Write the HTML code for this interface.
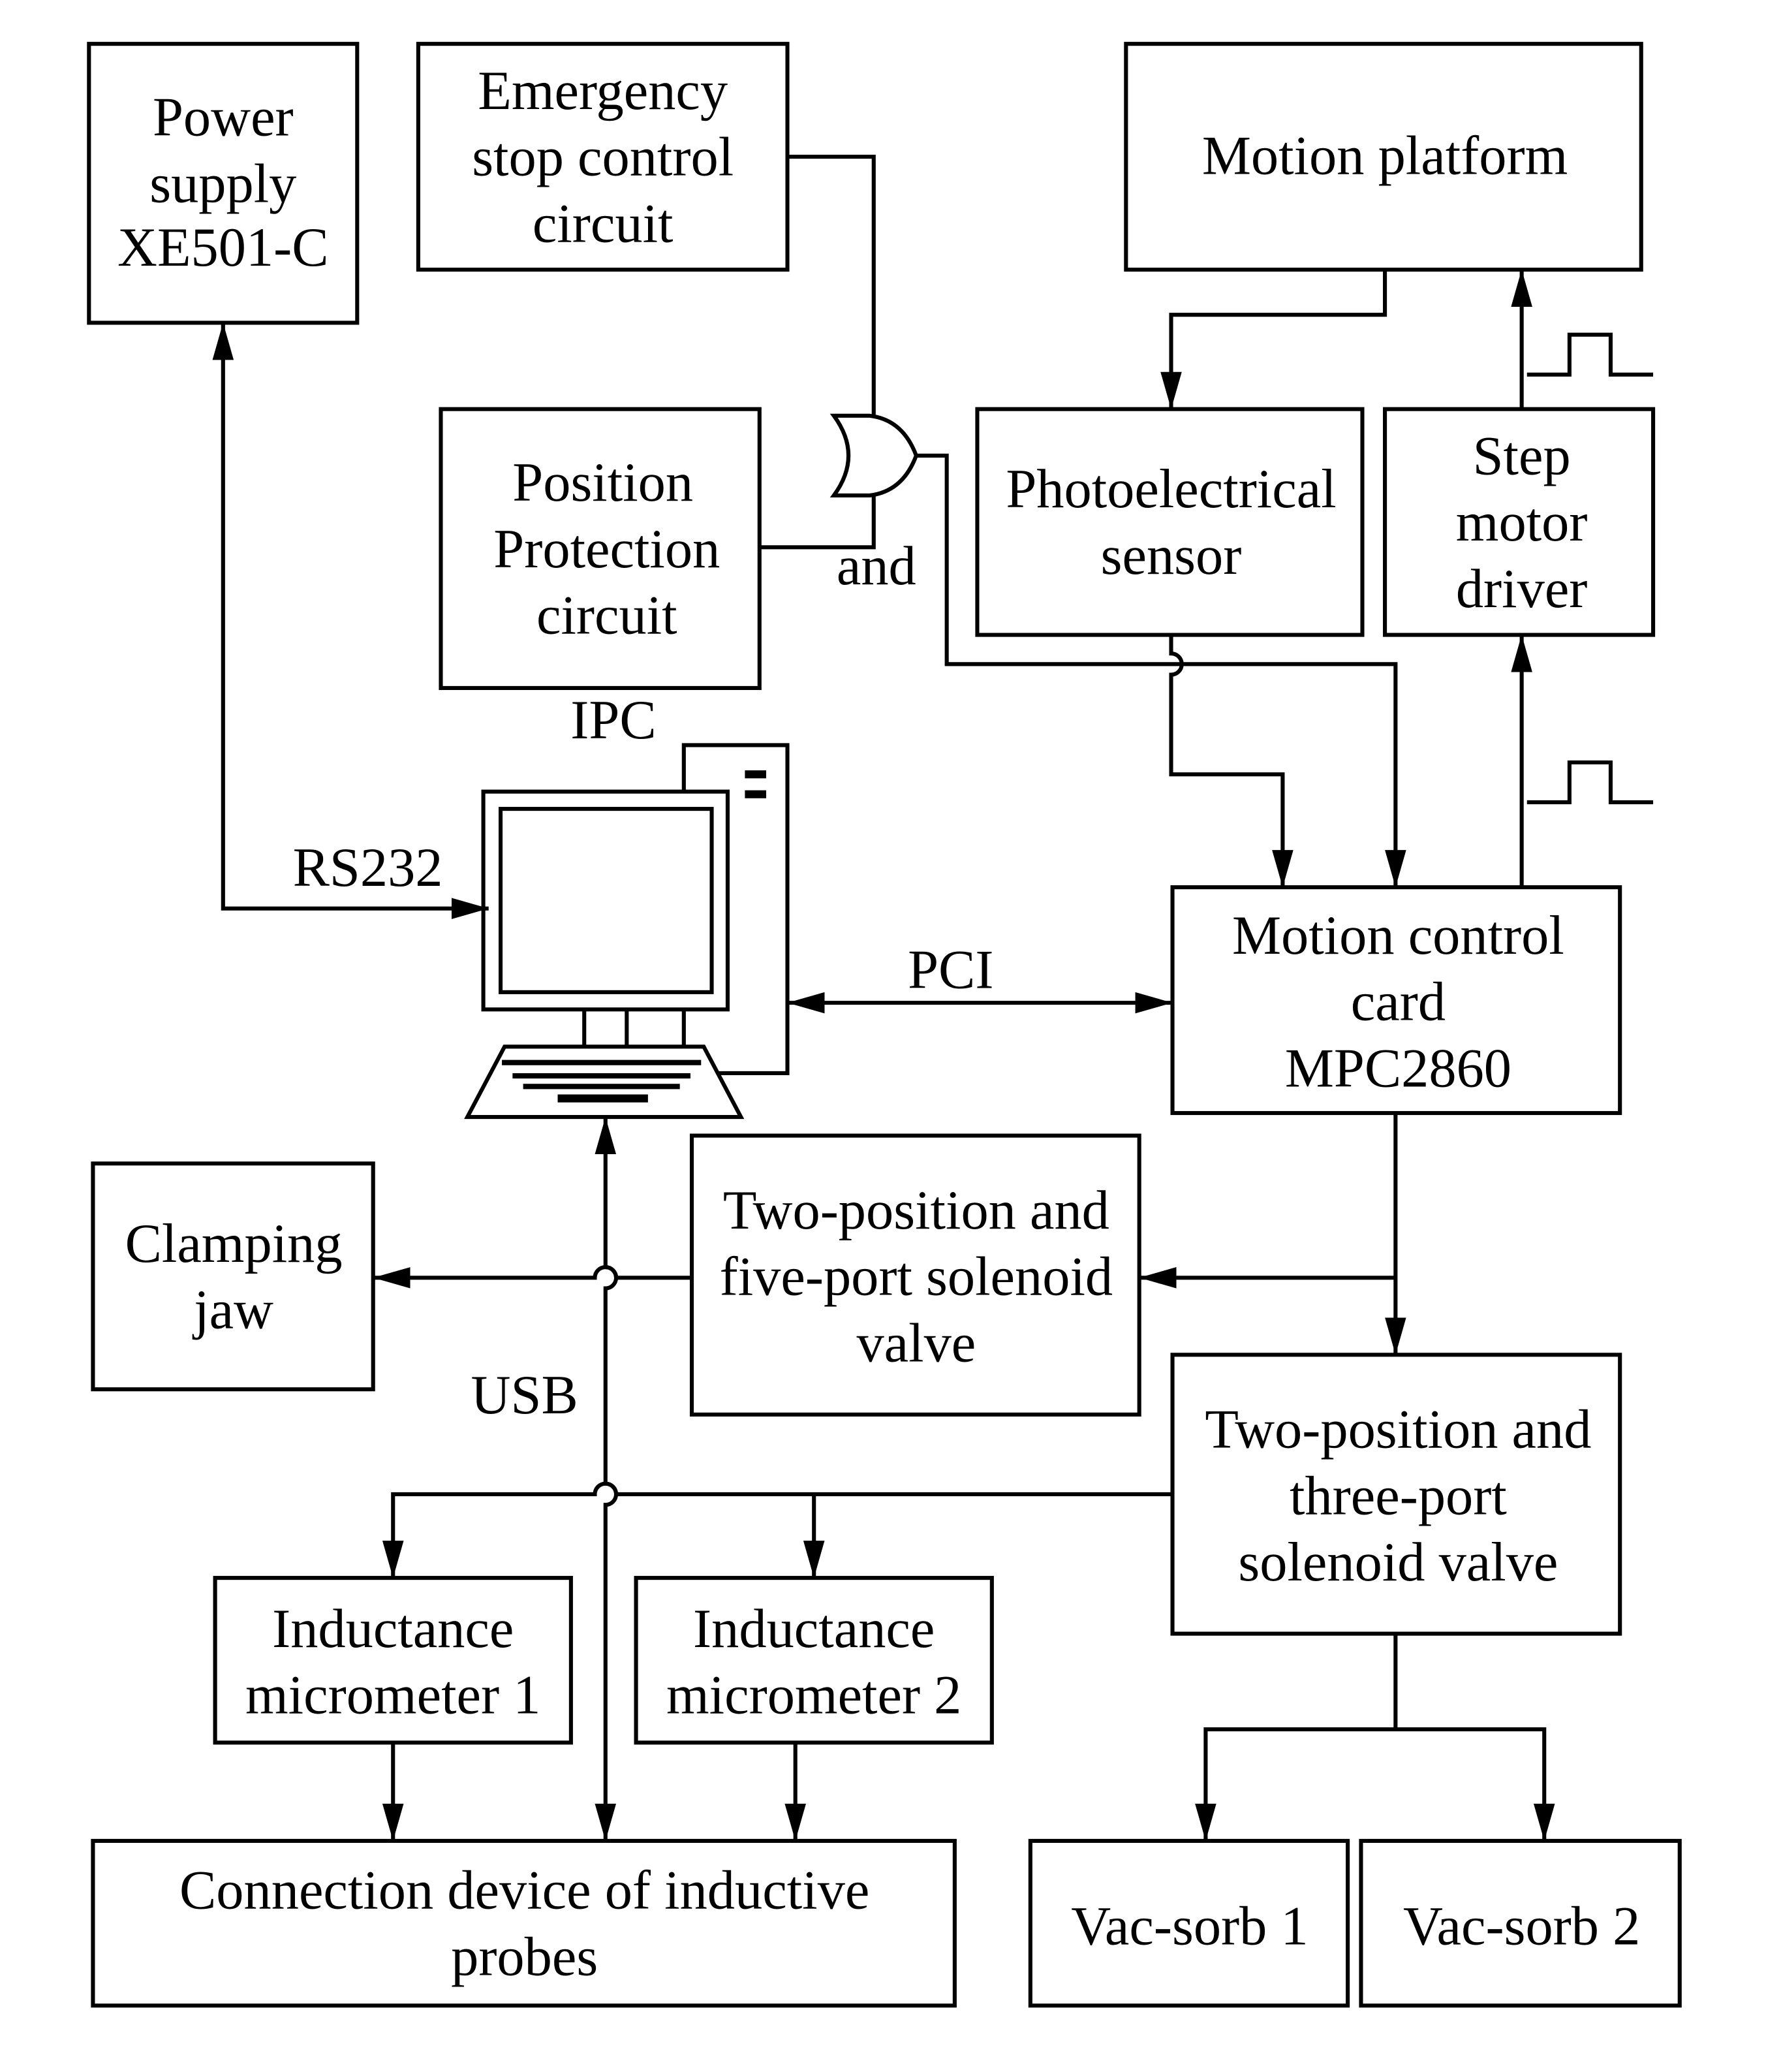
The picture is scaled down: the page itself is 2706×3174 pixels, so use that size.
<!DOCTYPE html>
<html><head><meta charset="utf-8"><style>
html,body{margin:0;padding:0;background:#fff}
svg{display:block}
text{font-family:"Liberation Serif",serif;font-size:41.5px;fill:#000;text-anchor:middle}
</style></head><body>
<svg width="2706" height="3174" viewBox="0 0 1330 1560" xmlns="http://www.w3.org/2000/svg">
<defs>
<marker id="b" viewBox="0 0 28 16" refX="28" refY="8" markerWidth="28" markerHeight="16" markerUnits="userSpaceOnUse" orient="auto-start-reverse">
<path d="M0,0 L28,8 L0,16 z" fill="#000"/>
</marker>
</defs>
<g fill="none" stroke="#000" stroke-width="3">
<rect x="67" y="33" width="202" height="210"/>
<rect x="315" y="33" width="278" height="170"/>
<rect x="848" y="33" width="388" height="170"/>
<rect x="332" y="308" width="240" height="210"/>
<rect x="736" y="308" width="290" height="170"/>
<rect x="1043" y="308" width="202" height="170"/>
<rect x="883" y="668" width="337" height="170"/>
<rect x="521" y="855" width="337" height="210"/>
<rect x="70" y="876" width="211" height="170"/>
<rect x="883" y="1020" width="337" height="210"/>
<rect x="162" y="1188" width="268" height="124"/>
<rect x="479" y="1188" width="268" height="124"/>
<rect x="70" y="1386" width="649" height="124"/>
<rect x="776" y="1386" width="239" height="124"/>
<rect x="1025" y="1386" width="240" height="124"/>

<path d="M168,243 L168,684 L368,684" marker-start="url(#b)" marker-end="url(#b)"/>
<path d="M593,118 L658,118 L658,313"/>
<path d="M572,412 L658,412 L658,373"/>
<path d="M628,313 Q650,343 628,373 L655,373 Q680,370 690,343 Q680,316 655,313 Z"/>
<path d="M690,343 L713,343 L713,500 L1051,500 L1051,668" marker-end="url(#b)"/>
<path d="M882,478 L882,492 A8,8 0 0 1 882,508 L882,583 L966,583 L966,668" marker-end="url(#b)"/>
<path d="M1043,203 L1043,237 L882,237 L882,308" marker-end="url(#b)"/>
<path d="M1146,308 L1146,203" marker-end="url(#b)"/>
<path d="M1146,668 L1146,478" marker-end="url(#b)"/>
<path d="M1150,282 L1182,282 L1182,252 L1213,252 L1213,282 L1245,282"/>
<path d="M1150,604 L1182,604 L1182,574 L1213,574 L1213,604 L1245,604"/>
<path d="M593,755 L883,755" marker-start="url(#b)" marker-end="url(#b)"/>
<path d="M515,596 L515,561 L593,561 L593,808 L540,808"/>
<rect x="561" y="580" width="16" height="6" fill="#000" stroke="none"/>
<rect x="561" y="595" width="16" height="6" fill="#000" stroke="none"/>
<rect x="364" y="596" width="184" height="164"/>
<rect x="377" y="609" width="159" height="138"/>
<path d="M440,760 L440,788 M472,760 L472,788 M515,760 L515,788"/>
<path d="M380,788 L530,788 L558,841 L352,841 Z"/>
<path d="M456,841 L456,954 A8,8 0 0 1 456,970 L456,1117 A8,8 0 0 1 456,1133 L456,1386" marker-start="url(#b)" marker-end="url(#b)"/>
<path d="M1051,838 L1051,1020" marker-end="url(#b)"/>
<path d="M1051,962 L858,962" marker-end="url(#b)"/>
<path d="M521,962 L464,962 A8,8 0 0 0 448,962 L281,962" marker-end="url(#b)"/>
<path d="M883,1125 L464,1125 A8,8 0 0 0 448,1125 L296,1125 L296,1188" marker-end="url(#b)"/>
<path d="M613,1125 L613,1188" marker-end="url(#b)"/>
<path d="M296,1312 L296,1386" marker-end="url(#b)"/>
<path d="M599,1312 L599,1386" marker-end="url(#b)"/>
<path d="M1051,1230 L1051,1302"/>
<path d="M908,1386 L908,1302 L1163,1302 L1163,1386" marker-start="url(#b)" marker-end="url(#b)"/>
</g>
<g>
<rect x="378" y="798" width="150" height="4" fill="#000"/>
<rect x="386" y="808" width="134" height="4" fill="#000"/>
<rect x="394" y="816" width="118" height="4" fill="#000"/>
<rect x="420" y="824" width="68" height="6" fill="#000"/>
<text x="168" y="102">Power</text><text x="168" y="152">supply</text><text x="168" y="200">XE501-C</text>
<text x="454" y="82">Emergency</text><text x="454" y="132">stop control</text><text x="454" y="182">circuit</text>
<text x="1043" y="131">Motion platform</text>
<text x="454" y="377">Position</text><text x="457" y="427">Protection</text><text x="457" y="477">circuit</text>
<text x="660" y="440">and</text>
<text x="462" y="556">IPC</text>
<text x="882" y="382">Photoelectrical</text><text x="882" y="432">sensor</text>
<text x="1146" y="357">Step</text><text x="1146" y="407">motor</text><text x="1146" y="457">driver</text>
<text x="277" y="667">RS232</text>
<text x="716" y="744">PCI</text>
<text x="1053" y="718">Motion control</text><text x="1053" y="768">card</text><text x="1053" y="818">MPC2860</text>
<text x="690" y="925">Two-position and</text><text x="690" y="975">five-port solenoid</text><text x="690" y="1025">valve</text>
<text x="176" y="950">Clamping</text><text x="176" y="1000">jaw</text>
<text x="395" y="1064">USB</text>
<text x="1053" y="1090">Two-position and</text><text x="1053" y="1140">three-port</text><text x="1053" y="1190">solenoid valve</text>
<text x="296" y="1240">Inductance</text><text x="296" y="1290">micrometer 1</text>
<text x="613" y="1240">Inductance</text><text x="613" y="1290">micrometer 2</text>
<text x="395" y="1437">Connection device of inductive</text><text x="395" y="1487">probes</text>
<text x="896" y="1464">Vac-sorb 1</text>
<text x="1146" y="1464">Vac-sorb 2</text>
</g>
</svg>
</body></html>
